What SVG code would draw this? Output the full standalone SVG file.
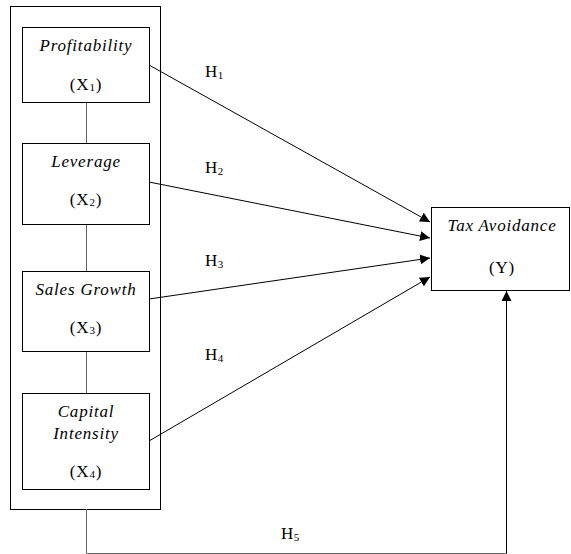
<svg xmlns="http://www.w3.org/2000/svg" width="571" height="554" viewBox="0 0 571 554">
<style>
  .box { fill: #fff; stroke: #000; stroke-width: 1; }
  .t { font-family: "Liberation Serif", "DejaVu Serif", serif; font-size: 17px; letter-spacing: 0.8px; fill: #000; text-anchor: middle; }
  .i { font-style: italic; }
  .h { font-family: "Liberation Serif", "DejaVu Serif", serif; font-size: 17px; letter-spacing: 0.5px; fill: #000; }
  .sub { font-size: 11px; }
  .ln { stroke: #000; stroke-width: 1; fill: none; }
  .gl { stroke: #666; stroke-width: 1; fill: none; }
</style>
<defs>
  <marker id="arr" viewBox="0 0 10 10" refX="10" refY="5" markerWidth="10" markerHeight="10" markerUnits="userSpaceOnUse" orient="auto">
    <path d="M0,0 L10,5 L0,10 Z" fill="#000"/>
  </marker>
</defs>
<rect id="outer" class="box" x="10.5" y="6.5" width="150" height="503"/>
<g id="connectors">
  <line class="gl" x1="86.5" y1="102" x2="86.5" y2="143"/>
  <line class="gl" x1="86.5" y1="224" x2="86.5" y2="271"/>
  <line class="gl" x1="86.5" y1="351" x2="86.5" y2="393"/>
  <path class="ln" d="M149,65 L430,222" marker-end="url(#arr)"/>
  <path class="ln" d="M149,182 L430,238" marker-end="url(#arr)"/>
  <path class="ln" d="M149,299 L430,258" marker-end="url(#arr)"/>
  <path class="ln" d="M149,441 L430,277" marker-end="url(#arr)"/>
  <path class="gl" d="M86.5,509 L86.5,553.5 L506.5,553.5" />
  <path class="ln" d="M506.5,553.5 L506.5,291" marker-end="url(#arr)"/>
  <text class="h" x="205" y="77">H<tspan class="sub" dy="2">1</tspan></text>
  <text class="h" x="205" y="173">H<tspan class="sub" dy="2">2</tspan></text>
  <text class="h" x="205" y="266">H<tspan class="sub" dy="2">3</tspan></text>
  <text class="h" x="205" y="360">H<tspan class="sub" dy="2">4</tspan></text>
  <text class="h" x="281" y="539">H<tspan class="sub" dy="2">5</tspan></text>
</g>
<g id="x1">
  <rect class="box" x="22.5" y="27.5" width="127" height="75"/>
  <text class="t i" x="86" y="51">Profitability</text>
  <text class="t" x="86" y="90">(X<tspan class="sub" dy="1">1</tspan><tspan dy="-1">)</tspan></text>
</g>
<g id="x2">
  <rect class="box" x="22.5" y="143.5" width="127" height="81"/>
  <text class="t i" x="86" y="167">Leverage</text>
  <text class="t" x="86" y="205">(X<tspan class="sub" dy="1">2</tspan><tspan dy="-1">)</tspan></text>
</g>
<g id="x3">
  <rect class="box" x="22.5" y="271.5" width="127" height="80"/>
  <text class="t i" x="86" y="295">Sales Growth</text>
  <text class="t" x="86" y="333">(X<tspan class="sub" dy="1">3</tspan><tspan dy="-1">)</tspan></text>
</g>
<g id="x4">
  <rect class="box" x="22.5" y="393.5" width="127" height="96"/>
  <text class="t i" x="86" y="417">Capital</text>
  <text class="t i" x="86" y="439">Intensity</text>
  <text class="t" x="86" y="477">(X<tspan class="sub" dy="1">4</tspan><tspan dy="-1">)</tspan></text>
</g>
<g id="y">
  <rect class="box" x="431.5" y="207.5" width="138" height="83"/>
  <text class="t i" x="502" y="231">Tax Avoidance</text>
  <text class="t" x="502" y="273">(Y)</text>
</g>
</svg>
